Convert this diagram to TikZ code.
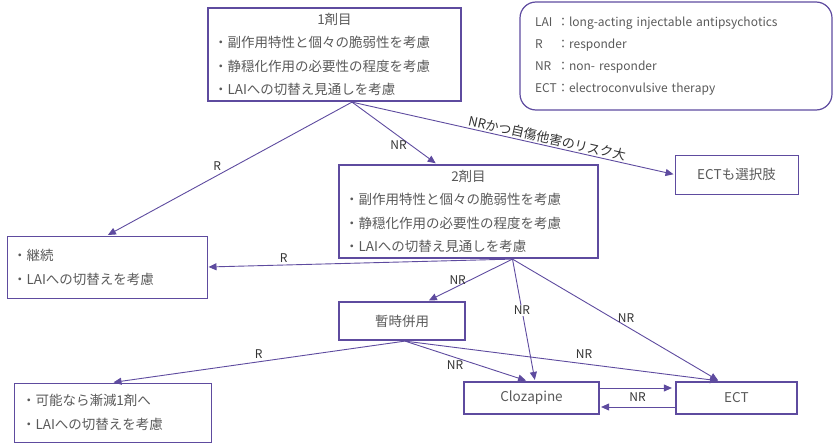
\documentclass[tikz,border=0pt]{standalone}
\usepackage{fontspec}
\setmainfont{Noto Sans CJK JP}[Kerning=Off]
\usetikzlibrary{arrows.meta,positioning}

\definecolor{lineviolet}{HTML}{5E4B9F}
\definecolor{textgray}{HTML}{595959}
\definecolor{labelgray}{HTML}{333333}

\tikzset{
  boxthick/.style={draw=lineviolet, line width=2.2pt, rectangle, text=textgray,
    font=\fontsize{13.5pt}{23.5pt}\selectfont, inner xsep=6pt},
  boxthin/.style={draw=lineviolet, line width=1pt, rectangle, text=textgray,
    font=\fontsize{13.5pt}{24pt}\selectfont, inner xsep=6pt},
  arr/.style={draw=lineviolet, line width=0.9pt,
    -{Triangle[length=8pt,width=7pt]}, shorten >=1pt},
  lbl/.style={text=labelgray, font=\fontsize{12pt}{14pt}\selectfont, inner sep=1pt}
}

\begin{document}
\begin{tikzpicture}[x=1pt,y=-1pt]
  \useasboundingbox (0,0) rectangle (836,444);
  \path
  node[boxthick, minimum width=253pt, minimum height=93pt, text width=241pt, align=left]
    (first) at (334.5,54.5)
    {\makebox[\linewidth]{1剤目}\\
     ・副作用特性と個々の脆弱性を考慮\\
     ・静穏化作用の必要性の程度を考慮\\
     ・LAIへの切替え見通しを考慮}
  node[draw=lineviolet, line width=1.2pt, rounded corners=16pt, minimum width=312pt,
    minimum height=108pt, text width=282pt, align=left, text=textgray,
    font=\fontsize{12pt}{21.8pt}\selectfont]
    (legend) at (676,56)
    {\makebox[22pt][l]{LAI}：long-acting injectable antipsychotics\\
     \makebox[22pt][l]{R}：responder\\
     \makebox[22pt][l]{NR}：non- responder\\
     \makebox[22pt][l]{ECT}：electroconvulsive therapy}
  node[boxthick, minimum width=259pt, minimum height=93pt, text width=247pt, align=left]
    (second) at (468.5,211.5)
    {\makebox[\linewidth]{2剤目}\\
     ・副作用特性と個々の脆弱性を考慮\\
     ・静穏化作用の必要性の程度を考慮\\
     ・LAIへの切替え見通しを考慮}
  node[boxthin, minimum width=123pt, minimum height=39pt] (ectopt) at (736.5,174.5) {ECTも選択肢}
  node[boxthin, minimum width=200pt, minimum height=62pt, text width=188pt, align=left]
    (keep) at (107,267)
    {・継続\\
     ・LAIへの切替えを考慮}
  node[boxthick, minimum width=126pt, minimum height=38pt] (combo) at (402,321) {暫時併用}
  node[boxthin, minimum width=197pt, minimum height=59pt, text width=181pt, align=left]
    (taper) at (112.5,412.5)
    {・可能なら漸減1剤へ\\
     ・LAIへの切替えを考慮}
  node[boxthick, minimum width=135pt, minimum height=32pt] (cloz) at (531.5,398) {Clozapine}
  node[boxthick, minimum width=121pt, minimum height=32pt] (ect) at (736.5,398) {ECT}
  ;

  % from the first drug
  \draw[arr] ([xshift=17.5pt]first.south) -- node[lbl, pos=.55, above=4pt] {R} (keep.north);
  \draw[arr] ([xshift=17.5pt]first.south) -- node[lbl, pos=.7, left=3pt] {NR} ([xshift=-32pt]second.north);
  \draw[arr] ([xshift=17.5pt]first.south) -- node[lbl, pos=.6, sloped, above=0pt,
    font=\fontsize{13pt}{15pt}\selectfont] {NRかつ自傷他害のリスク大} (ectopt.west);

  % from the second drug
  \draw[arr] ([xshift=44pt]second.south) -- node[lbl, pos=.75, above=1pt] {R} (keep.east);
  \draw[arr] ([xshift=44pt]second.south) -- node[lbl, pos=.5, left=3pt] {NR} ([xshift=26pt]combo.north);
  \draw[arr] ([xshift=44pt]second.south) -- node[lbl, pos=.42, fill=white] {NR} ([xshift=3.5pt]cloz.north);
  \draw[arr] ([xshift=44pt]second.south) -- node[lbl, pos=.55, above=2pt] {NR} ([xshift=-17.5pt]ect.north);

  % from the combination
  \draw[arr] ([xshift=3pt]combo.south) -- node[lbl, pos=.5, above=2pt] {R} (taper.north);
  \draw[arr] ([xshift=3pt]combo.south) -- node[lbl, pos=.41, below=2pt] {NR} ([xshift=-4.5pt]cloz.north);
  \draw[arr] ([xshift=3pt]combo.south) -- node[lbl, pos=.57, above=4pt] {NR} ([xshift=-17.5pt]ect.north);

  % clozapine and ECT
  \draw[arr, shorten >=3pt] ([yshift=10pt]cloz.east) -- node[lbl, pos=.5, below=3pt] {NR} ([yshift=10pt]ect.west);
  \draw[arr] ([yshift=-9pt]ect.west) -- ([yshift=-9pt]cloz.east);
\end{tikzpicture}
\end{document}
